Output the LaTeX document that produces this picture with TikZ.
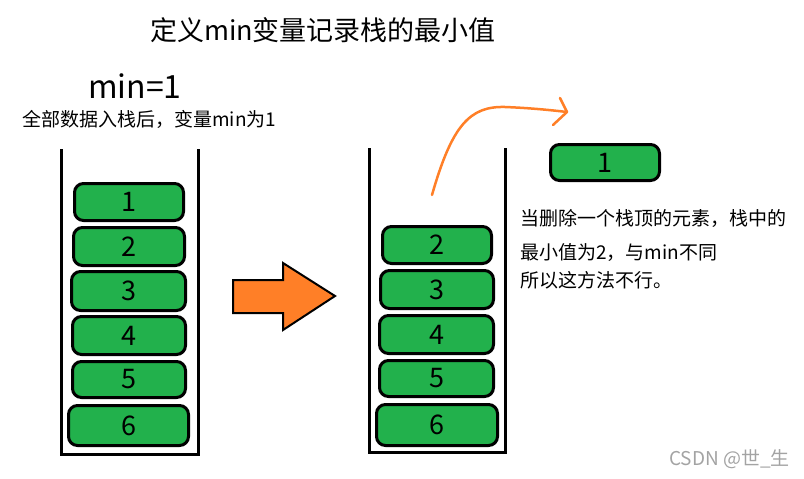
\documentclass[tikz,border=0pt]{standalone}
\usepackage{fontspec}
\setmainfont{Noto Sans CJK SC}
\definecolor{pgreen}{HTML}{22B14C}
\definecolor{porange}{HTML}{FF7F27}
\definecolor{wmgray}{HTML}{A3A3A3}
\tikzset{
  elem/.style={draw=black, line width=3pt, fill=pgreen, rounded corners=9pt, inner sep=0pt, font=\fontsize{27}{27}\selectfont},
  wall/.style={draw=black, line width=3pt},
  note/.style={inner sep=0pt, anchor=west, font=\fontsize{19}{19}\selectfont},
}
\begin{document}
\begin{tikzpicture}[x=1pt,y=-1pt]
\useasboundingbox (0,0) rectangle (804,479);
% title
\node[inner sep=0pt, font=\fontsize{27}{27}\selectfont] (title) at (323,30) {定义min变量记录栈的最小值};
\node[inner sep=0pt, font=\fontsize{32}{32}\selectfont] (minv) at (135,86) {min=1};
\node[note] (sub) at (22,119) {全部数据入栈后，变量min为1};
% left container
\draw[wall] (61.5,149) -- (61.5,454) -- (198.5,454) -- (198.5,149);
\node[elem, minimum width=109pt, minimum height=37pt] (L1) at (129,202) {1};
\node[elem, minimum width=111pt, minimum height=38pt] (L2) at (129,246.5) {2};
\node[elem, minimum width=114pt, minimum height=39pt] (L3) at (128.5,291) {3};
\node[elem, minimum width=113pt, minimum height=38pt] (L4) at (129,335.5) {4};
\node[elem, minimum width=113pt, minimum height=36pt] (L5) at (129,379.5) {5};
\node[elem, minimum width=120pt, minimum height=40pt] (L6) at (128.5,425.5) {6};
% big arrow
\draw[black, line width=2pt, fill=porange, line join=miter]
  (233,280) -- (283,280) -- (283,263) -- (335,296) -- (283,330) -- (283,313) -- (233,313) -- cycle;
% right container
\draw[wall] (369.5,148) -- (369.5,452) -- (505.5,452) -- (505.5,148);
\node[elem, minimum width=109pt, minimum height=37pt] (R2) at (437,245) {2};
\node[elem, minimum width=113pt, minimum height=38pt] (R3) at (437,289.5) {3};
\node[elem, minimum width=114pt, minimum height=38pt] (R4) at (436.5,334.5) {4};
\node[elem, minimum width=114pt, minimum height=36pt] (R5) at (436.5,378.5) {5};
\node[elem, minimum width=121pt, minimum height=41pt] (R6) at (437,425) {6};
\node[elem, minimum width=109pt, minimum height=36pt] (R1) at (605,162.5) {1};
% orange curved arrow
\coordinate (cs) at (432,195);
\coordinate (ce) at (567,112);
\draw[porange, line width=2.5pt, line cap=round, line join=round]
  (cs) .. controls (452,125) and (470,106) .. (505,107) .. controls (530,108) and (550,110) .. (ce);
\draw[porange, line width=2.5pt, line cap=round, line join=round]
  (560,98) -- (ce) -- (553,125);
% note
\node[note] (n1) at (520,218) {当删除一个栈顶的元素，栈中的};
\node[note] (n2) at (520,253) {最小值为2，与min不同};
\node[note] (n3) at (520,280) {所以这方法不行。};
% watermark
\node[inner sep=0pt, anchor=east, text=wmgray, font=\fontsize{19}{19}\selectfont] (wm) at (790,459) {CSDN @世\_生};
\end{tikzpicture}
\end{document}
